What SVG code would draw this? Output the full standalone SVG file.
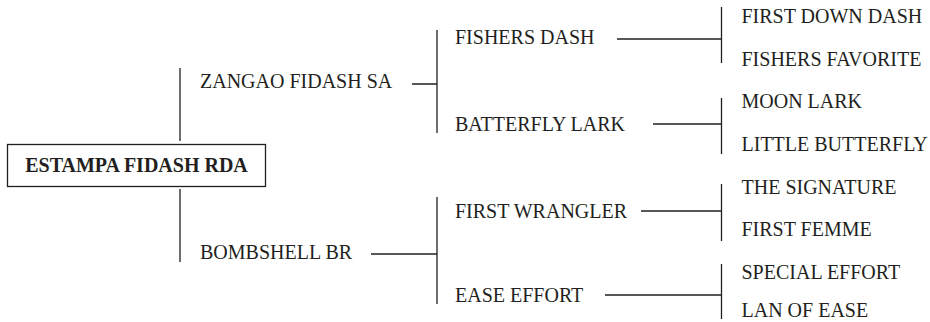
<svg xmlns="http://www.w3.org/2000/svg" width="930" height="322" viewBox="0 0 930 322">
<style>
text{font-family:"Liberation Serif","DejaVu Serif",serif;font-size:20px;fill:#231f20}
.root{font-weight:bold}
.ln{stroke:#231f20;stroke-width:1.3;fill:none}
.box{stroke:#231f20;stroke-width:1.3;fill:#fff}
</style>
<rect width="930" height="322" fill="#fff"/>
<g id="connectors">
<path class="ln" d="M180 68V141M180 189V262"/>
<path class="ln" d="M412 84H437M437 30V133"/>
<path class="ln" d="M371 254H437M437 197V304"/>
<path class="ln" d="M617 39H721.5M721.5 7V63"/>
<path class="ln" d="M653 124H721.5M721.5 98V154"/>
<path class="ln" d="M641 211H721.5M721.5 184V241"/>
<path class="ln" d="M605 295H721.5M721.5 264V319"/>
</g>
<g id="n-estampa"><rect class="box" x="7.5" y="144.5" width="258" height="42"/><text class="root" x="136.5" y="172" text-anchor="middle">ESTAMPA FIDASH RDA</text></g>
<g id="n-zangao"><text x="200" y="87.5">ZANGAO FIDASH SA</text></g>
<g id="n-bombshell"><text x="200" y="259">BOMBSHELL BR</text></g>
<g id="n-fishers-dash"><text x="455" y="44">FISHERS DASH</text></g>
<g id="n-batterfly-lark"><text x="455" y="131">BATTERFLY LARK</text></g>
<g id="n-first-wrangler"><text x="455" y="218">FIRST WRANGLER</text></g>
<g id="n-ease-effort"><text x="455" y="302">EASE EFFORT</text></g>
<g id="n-first-down-dash"><text x="741.5" y="23.3">FIRST DOWN DASH</text></g>
<g id="n-fishers-favorite"><text x="741.5" y="65.7">FISHERS FAVORITE</text></g>
<g id="n-moon-lark"><text x="741.5" y="108.3">MOON LARK</text></g>
<g id="n-little-butterfly"><text x="741.5" y="151">LITTLE BUTTERFLY</text></g>
<g id="n-the-signature"><text x="741.5" y="193.5">THE SIGNATURE</text></g>
<g id="n-first-femme"><text x="741.5" y="236">FIRST FEMME</text></g>
<g id="n-special-effort"><text x="741.5" y="278.5">SPECIAL EFFORT</text></g>
<g id="n-lan-of-ease"><text x="741.5" y="317">LAN OF EASE</text></g>
</svg>
